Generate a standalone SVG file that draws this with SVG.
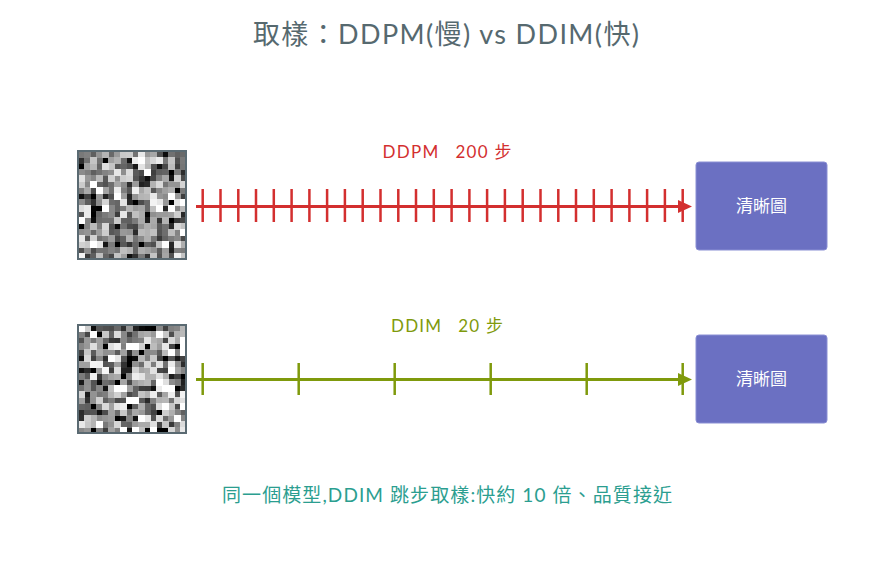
<svg xmlns="http://www.w3.org/2000/svg" width="894" height="564" viewBox="0 0 894 564">
<style>
.t{font-family:Lato,"Noto Sans CJK TC",sans-serif}
.title{font-size:27px;fill:#56696f}
.lab{font-size:17px}
.red{fill:#d32f2f}
.grn{fill:#7f9a0c}
.box{fill:#6b70c2;stroke:#8a8fd4;stroke-width:1}
.boxt{font-size:17px;fill:#ffffff}
.cap{font-size:19px;fill:#2b9e90}
.frame{fill:none;stroke:#5a6a72;stroke-width:2}
</style>
<defs>
<filter id="nzA" x="0" y="0" width="108" height="108" filterUnits="userSpaceOnUse" color-interpolation-filters="sRGB">
<feTurbulence type="fractalNoise" baseFrequency="0.41" numOctaves="2" seed="4" result="t"/>
<feColorMatrix in="t" type="matrix" values="1 0 0 0 0 1 0 0 0 0 1 0 0 0 0 0 0 0 0 1" result="g"/>
<feComponentTransfer in="g" result="c"><feFuncR type="linear" slope="2.6" intercept="-0.8"/><feFuncG type="linear" slope="2.6" intercept="-0.8"/><feFuncB type="linear" slope="2.6" intercept="-0.8"/></feComponentTransfer>
<feFlood x="3" y="3" width="1" height="1" flood-color="#000" result="dot"/>
<feComposite in="dot" in2="dot" x="0" y="0" width="6" height="6" operator="over" result="cell"/>
<feTile in="cell" x="0" y="0" width="108" height="108" result="grid"/>
<feComposite in="c" in2="grid" operator="in" result="s"/>
<feMorphology in="s" operator="dilate" radius="3"/>
</filter>
<filter id="nzB" x="0" y="0" width="108" height="108" filterUnits="userSpaceOnUse" color-interpolation-filters="sRGB">
<feTurbulence type="fractalNoise" baseFrequency="0.43" numOctaves="2" seed="11" result="t"/>
<feColorMatrix in="t" type="matrix" values="1 0 0 0 0 1 0 0 0 0 1 0 0 0 0 0 0 0 0 1" result="g"/>
<feComponentTransfer in="g" result="c"><feFuncR type="linear" slope="2.6" intercept="-0.8"/><feFuncG type="linear" slope="2.6" intercept="-0.8"/><feFuncB type="linear" slope="2.6" intercept="-0.8"/></feComponentTransfer>
<feFlood x="3" y="3" width="1" height="1" flood-color="#000" result="dot"/>
<feComposite in="dot" in2="dot" x="0" y="0" width="6" height="6" operator="over" result="cell"/>
<feTile in="cell" x="0" y="0" width="108" height="108" result="grid"/>
<feComposite in="c" in2="grid" operator="in" result="s"/>
<feMorphology in="s" operator="dilate" radius="3"/>
</filter>
<marker id="arR" markerUnits="userSpaceOnUse" markerWidth="14" markerHeight="13" refX="6" refY="6.5" orient="auto"><path d="M0,0 L14,6.5 L0,13 z" fill="#d32f2f"/></marker>
<marker id="arG" markerUnits="userSpaceOnUse" markerWidth="14" markerHeight="13" refX="6" refY="6.5" orient="auto"><path d="M0,0 L14,6.5 L0,13 z" fill="#7f9a0c"/></marker>
</defs>
<rect width="894" height="564" fill="#ffffff"/>
<text class="t title" x="446" y="44" text-anchor="middle" textLength="386" lengthAdjust="spacing">取樣：DDPM(慢) vs DDIM(快)</text>

<g id="noise-ddpm">
<g transform="translate(78,151)"><rect width="108" height="108" fill="#888" filter="url(#nzA)"/></g>
<rect class="frame" x="78" y="151" width="108" height="108"/>
</g>
<g id="noise-ddim">
<g transform="translate(78,325)"><rect width="108" height="108" fill="#888" filter="url(#nzB)"/></g>
<rect class="frame" x="78" y="325" width="108" height="108"/>
</g>

<g id="label-ddpm"><text class="t lab red" x="447" y="158" text-anchor="middle" textLength="129" lengthAdjust="spacing">DDPM<tspan dx="16">200 步</tspan></text></g>
<g id="label-ddim"><text class="t lab grn" x="447" y="332" text-anchor="middle" textLength="112" lengthAdjust="spacing">DDIM<tspan dx="16">20 步</tspan></text></g>

<g id="clear-ddpm"><rect class="box" x="696" y="162" width="131" height="88" rx="3"/><text class="t boxt" x="761.5" y="212" text-anchor="middle">清晰圖</text></g>
<g id="clear-ddim"><rect class="box" x="696" y="335" width="131" height="88" rx="3"/><text class="t boxt" x="761.5" y="385" text-anchor="middle">清晰圖</text></g>

<g id="connectors">
<line x1="196" y1="206.5" x2="684" y2="206.5" stroke="#d32f2f" stroke-width="3" marker-end="url(#arR)"/>
<path fill="none" stroke="#d32f2f" stroke-width="2.5" d="M202.7 189V222M220.5 189V222M238.3 189V222M256 189V222M273.8 189V222M291.6 189V222M309.4 189V222M327.1 189V222M344.9 189V222M362.7 189V222M380.5 189V222M398.3 189V222M416 189V222M433.8 189V222M451.6 189V222M469.4 189V222M487.1 189V222M504.9 189V222M522.7 189V222M540.5 189V222M558.3 189V222M576 189V222M593.8 189V222M611.6 189V222M629.4 189V222M647.1 189V222M664.9 189V222M682.7 189V222"/>
<line x1="196" y1="379.5" x2="684" y2="379.5" stroke="#7f9a0c" stroke-width="3" marker-end="url(#arG)"/>
<path fill="none" stroke="#7f9a0c" stroke-width="2.5" d="M202.7 363V395M298.7 363V395M394.7 363V395M490.7 363V395M586.7 363V395M682.7 363V395"/>
</g>

<text class="t cap" x="447" y="502" text-anchor="middle" textLength="450" lengthAdjust="spacing">同一個模型,DDIM 跳步取樣:快約 10 倍、品質接近</text>
</svg>
